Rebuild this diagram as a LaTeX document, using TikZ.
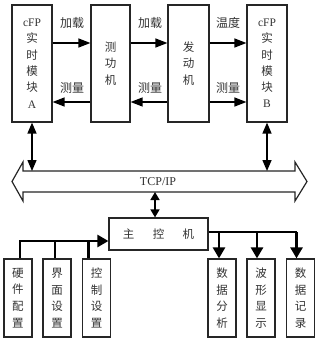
\documentclass[tikz,border=0pt]{standalone}
\usepackage{fontspec}
\setmainfont{Liberation Serif}
\newfontfamily\cjk{Noto Sans CJK SC}
\usetikzlibrary{arrows.meta}
\begin{document}
\begin{tikzpicture}[x=1pt,y=-1pt,
  box/.style={draw=black!85,line width=1.2pt,fill=white,minimum height=117pt,inner sep=0pt,align=center,font=\fontsize{11.5}{16.3}\selectfont\cjk,text=black!80},
  sbox/.style={draw=black!85,line width=1.2pt,fill=white,minimum width=28pt,minimum height=78pt,inner sep=0pt,align=center,font=\fontsize{11.5}{16.7}\selectfont\cjk,text=black!80},
  lbl/.style={font=\fontsize{12}{14}\selectfont\cjk,text=black!80},
  sig/.style={line width=1.3pt,-{Triangle[length=12pt,width=9pt]}},
  dbl/.style={line width=1.5pt,{Triangle[length=11pt,width=9pt]}-{Triangle[length=11pt,width=9pt]}},
  thk/.style={line width=2.6pt,line join=miter},
  tarr/.style={line width=2.6pt,line join=miter,-{Triangle[length=11pt,width=12pt]}}
]
\useasboundingbox (0,0) rectangle (319,342);
\fill[white] (0,0) rectangle (319,342);

% top row boxes
\node[box,minimum width=40pt] (A) at (32,63.5) {{\rmfamily cFP}\\实\\时\\模\\块\\{\rmfamily A}};
\node[box,minimum width=39pt] (dyn) at (110.5,63.5) {测\\功\\机};
\node[box,minimum width=41pt] (eng) at (188.5,63.5) {发\\动\\机};
\node[box,minimum width=40pt] (B) at (267,63.5) {{\rmfamily cFP}\\实\\时\\模\\块\\{\rmfamily B}};

\coordinate (r1) at (0,43);
\coordinate (r2) at (0,102);
\draw[sig] (A.east |- r1) -- (dyn.west |- r1);
\draw[sig] (dyn.east |- r1) -- (eng.west |- r1);
\draw[sig] (eng.east |- r1) -- (B.west |- r1);
\draw[sig] (dyn.west |- r2) -- (A.east |- r2);
\draw[sig] (eng.west |- r2) -- (dyn.east |- r2);
\draw[sig] (eng.east |- r2) -- (B.west |- r2);

\node[lbl] (l1) at (72,23) {加载};
\node[lbl] (l2) at (150,23) {加载};
\node[lbl] (l3) at (228,23) {温度};
\node[lbl] (l4) at (72,88) {测量};
\node[lbl] (l5) at (150,88) {测量};
\node[lbl] (l6) at (228,88) {测量};

% bus
\draw[line width=1.2pt,draw=black!85,fill=white,line join=miter]
  (12,181.5) -- (23,162) -- (23,171) -- (295,171) -- (295,162) -- (307,181.5)
  -- (295,201) -- (295,192) -- (23,192) -- (23,201) -- cycle;
\node[font=\fontsize{12}{14}\selectfont,text=black!80] (bus) at (158,181.5) {TCP/IP};
\coordinate (bt) at (160,171);
\coordinate (bb) at (155,192);

\draw[dbl] (A.south) -- (A.south |- bt);
\draw[dbl] (B.south) -- (B.south |- bt);

% main controller
\node[draw=black!85,line width=1.2pt,minimum width=99pt,minimum height=32pt,inner sep=0pt,
  font=\fontsize{11.5}{14}\selectfont\cjk,text=black!80] (main) at (158.5,234) {主\hspace{1.6em}控\hspace{1.6em}机};
\draw[line width=1.5pt,{Triangle[length=8pt,width=9pt]}-{Triangle[length=8pt,width=9pt]}] (bb) -- (bb |- main.north);

% bottom boxes
\node[sbox] (hw) at (18,298) {硬\\件\\配\\置};
\node[sbox] (ui) at (57,298) {界\\面\\设\\置};
\node[sbox] (ctrl) at (96.5,298) {控\\制\\设\\置};
\node[sbox] (da) at (222,298) {数\\据\\分\\析};
\node[sbox] (wave) at (261,298) {波\\形\\显\\示};
\node[sbox] (rec) at (300.5,298) {数\\据\\记\\录};

\coordinate (h1) at (0,241);
\coordinate (h2) at (0,232);
\draw[tarr] ([xshift=2pt]hw.north) |- (main.west |- h1);
\draw[thk] ([xshift=-2pt]ui.north) -- ([xshift=-2pt]ui.north |- h1);
\draw[thk] ([xshift=-8pt]ctrl.north) -- ([xshift=-8pt]ctrl.north |- h1);

\draw[thk] (main.east |- h2) -- ([xshift=-4pt]rec.north |- h2);
\draw[tarr] ([xshift=-4pt]rec.north |- h2) -- ([xshift=-4pt]rec.north);
\draw[tarr] ([xshift=-3pt]da.north |- h2) -- ([xshift=-3pt]da.north);
\draw[tarr] ([xshift=-4pt]wave.north |- h2) -- ([xshift=-4pt]wave.north);
\end{tikzpicture}
\end{document}
